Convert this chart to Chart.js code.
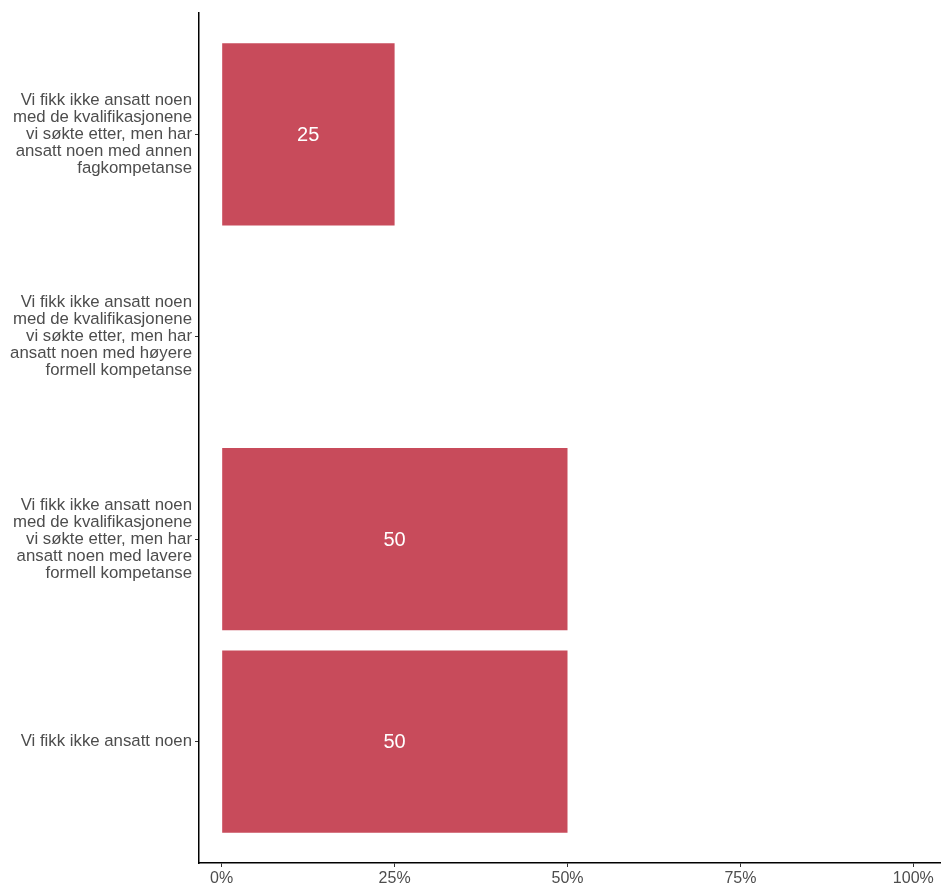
<!DOCTYPE html>
<html>
<head>
<meta charset="utf-8">
<script src="https://cdn.jsdelivr.net/npm/chart.js@4.4.1/dist/chart.umd.min.js"></script>
<style>
  html, body { margin: 0; padding: 0; background: #fff; overflow: hidden; }
  canvas { display: block; }
</style>
</head>
<body>
<canvas id="chart" width="941" height="886"></canvas>
<script>
// data
var categories = [
  ["Vi fikk ikke ansatt noen", "med de kvalifikasjonene", "vi søkte etter, men har", "ansatt noen med annen", "fagkompetanse"],
  ["Vi fikk ikke ansatt noen", "med de kvalifikasjonene", "vi søkte etter, men har", "ansatt noen med høyere", "formell kompetanse"],
  ["Vi fikk ikke ansatt noen", "med de kvalifikasjonene", "vi søkte etter, men har", "ansatt noen med lavere", "formell kompetanse"],
  ["Vi fikk ikke ansatt noen"]
];
var values = [25, 0, 50, 50];
var xTicks = [0, 25, 50, 75, 100];

var barColor = "#C84B5B";
var textColor = "#4D4D4D";
var fontFamily = "'Liberation Sans', Arial, sans-serif";

// bars sit at positions 1..n on a linear scale so the axis can have ggplot-like padding
var points = values.map((v, i) => ({ x: v, y: i + 1 }));

// white value labels in the middle of each bar
var barLabels = {
  id: "barLabels",
  afterDatasetsDraw(chart) {
    const ctx = chart.ctx;
    const meta = chart.getDatasetMeta(0);
    const xs = chart.scales.x;
    ctx.save();
    ctx.fillStyle = "#ffffff";
    ctx.font = "20px " + fontFamily;
    ctx.textAlign = "center";
    ctx.textBaseline = "middle";
    meta.data.forEach((bar, i) => {
      if (!values[i]) return;
      ctx.fillText(values[i], (xs.getPixelForValue(0) + bar.x) / 2, bar.y + 1);
    });
    ctx.restore();
  }
};

new Chart(document.getElementById("chart"), {
  type: "bar",
  data: {
    datasets: [{
      data: points,
      backgroundColor: barColor,
      borderWidth: 0,
      barPercentage: 0.9,
      categoryPercentage: 1.0
    }]
  },
  options: {
    indexAxis: "y",
    responsive: false,
    animation: false,
    devicePixelRatio: 1,
    layout: { padding: { top: 13, right: 0, bottom: 0, left: 0 } },
    plugins: { legend: { display: false }, tooltip: { enabled: false } },
    scales: {
      x: {
        type: "linear",
        min: -3.28,
        max: 104,
        afterBuildTicks(scale) { scale.ticks = xTicks.map((v) => ({ value: v })); },
        afterFit(scale) { scale.height = 23; },
        ticks: {
          callback: (v) => v + "%",
          color: textColor,
          font: { family: fontFamily, size: 16 },
          padding: 2,
          maxRotation: 0
        },
        grid: { drawOnChartArea: false, drawTicks: true, tickLength: 4, color: "#333333" },
        border: { display: true, color: "#000000", width: 1.5 }
      },
      y: {
        type: "linear",
        reverse: true,
        offset: false,
        min: 0.4,
        max: categories.length + 0.6,
        afterBuildTicks(scale) { scale.ticks = categories.map((c, i) => ({ value: i + 1 })); },
        afterFit(scale) {
          // labels stay well inside the plot, so no extra room is needed
          scale.width = 199;
          scale.paddingTop = 0;
          scale.paddingBottom = 0;
        },
        ticks: {
          callback: (v) => categories[v - 1],
          color: textColor,
          font: { family: fontFamily, size: 16.8, lineHeight: "17px" },
          padding: 3
        },
        grid: { offset: false, drawOnChartArea: false, drawTicks: true, tickLength: 4, color: "#333333" },
        border: { display: true, color: "#000000", width: 1.5 }
      }
    }
  },
  plugins: [barLabels]
});
</script>
</body>
</html>
